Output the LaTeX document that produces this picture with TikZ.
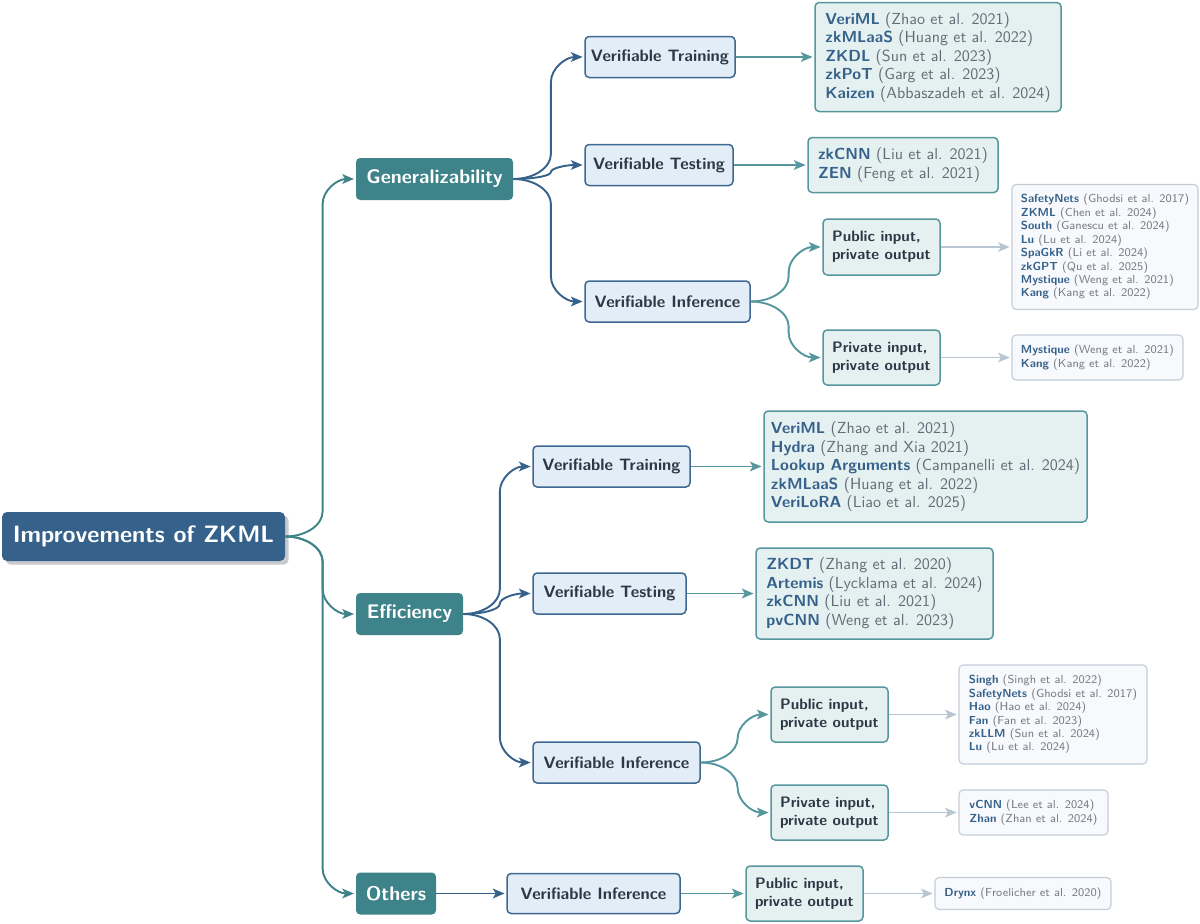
\documentclass[tikz,border=0pt]{standalone}
\usepackage{fontspec}
\usetikzlibrary{arrows.meta,shadows,calc}
\definecolor{rootblue}{RGB}{53,97,138}
\definecolor{tealA}{RGB}{62,131,137}
\definecolor{tealB}{RGB}{86,151,158}
\definecolor{ltwofill}{RGB}{227,237,247}
\definecolor{ltwoborder}{RGB}{62,104,145}
\definecolor{darktext}{RGB}{43,56,69}
\definecolor{listfill}{RGB}{229,241,241}
\definecolor{listborder}{RGB}{86,151,158}
\definecolor{smallfill}{RGB}{248,249,252}
\definecolor{smallborder}{RGB}{196,205,216}
\definecolor{graylink}{RGB}{184,198,212}
\definecolor{citename}{RGB}{53,97,138}
\definecolor{citegray}{RGB}{98,108,118}
\definecolor{citegrayL}{RGB}{118,126,135}
\definecolor{shadowgray}{RGB}{200,202,208}
\newcommand\pxu{0.6pt}
\newcommand\cname[1]{{\bfseries\color{citename}#1}}
\begin{document}
\begin{tikzpicture}[x=0.6pt,y=-0.6pt,
  base/.style={rounded corners=2.5pt, inner sep=1pt, align=center},
  sz/.style 2 args={minimum width=#1*\pxu, minimum height=#2*\pxu},
  rootbox/.style={base, fill=rootblue, text=white, rounded corners=3pt,
    font=\sffamily\bfseries\fontsize{14.2}{17}\selectfont,
    drop shadow={shadow xshift=2.2pt, shadow yshift=-2.2pt, fill=shadowgray, opacity=1}},
  catbox/.style={base, fill=tealA, text=white,
    font=\sffamily\bfseries\fontsize{11.8}{14}\selectfont},
  ltwobox/.style={base, draw=ltwoborder, fill=ltwofill, line width=0.9pt, text=darktext,
    font=\sffamily\bfseries\fontsize{9.9}{11.5}\selectfont},
  ppbox/.style={base, draw=listborder, fill=listfill, line width=0.9pt, text=darktext, align=left,
    font=\sffamily\bfseries\fontsize{9.1}{10.8}\selectfont},
  listbox/.style={base, draw=listborder, fill=listfill, line width=0.9pt, align=left, text=citegray,
    font=\sffamily\fontsize{9.6}{11.1}\selectfont},
  smallbox/.style={base, draw=smallborder, fill=smallfill, line width=0.7pt, align=left, text=citegrayL,
    font=\sffamily\fontsize{7.0}{8.05}\selectfont},
  conn/.style={line width=1.15pt, shorten >=1pt, -{Stealth[length=7pt,width=5.8pt,inset=1.7pt]}},
  cA/.style={conn, draw=tealA},
  cB/.style={conn, draw=rootblue},
  cC/.style={conn, draw=tealB},
  cD/.style={conn, draw=graylink},
  curvy/.style={to path={let \p1=(\tikztostart), \p2=(\tikztotarget) in
      .. controls ({0.71*\x1+0.29*\x2},\y1) and
         ({0.47*\x1+0.53*\x2},{\y1+0.45*min(15,abs(\y2-\y1)/2)*sign(\y2-\y1)}) ..
      ({0.47*\x1+0.53*\x2},{\y1+min(15,abs(\y2-\y1)/2)*sign(\y2-\y1)})
      -- ({0.47*\x1+0.53*\x2},{\y2-min(15,abs(\y2-\y1)/2)*sign(\y2-\y1)})
      .. controls ({0.47*\x1+0.53*\x2},{\y2-0.45*min(15,abs(\y2-\y1)/2)*sign(\y2-\y1)}) and
         ({0.2585*\x1+0.7415*\x2},\y2) .. (\tikztotarget) \tikztonodes}}
]
\useasboundingbox (0,0) rectangle (1200,923);

% root and categories
\node[rootbox, sz={283}{49}] (root) at (143.5,536.5) {Improvements of ZKML};
\node[catbox, sz={157}{42}] (gen) at (434.5,179) {Generalizability};
\node[catbox, sz={107}{42}] (eff) at (409.5,614) {Efficiency};
\node[catbox, sz={80}{42}] (oth) at (396,893.5) {Others};

% generalizability branch
\node[ltwobox, sz={150}{41}] (gvt) at (660,57) {Verifiable Training};
\node[ltwobox, sz={148}{41}] (gvte) at (659,165) {Verifiable Testing};
\node[ltwobox, sz={165}{41}] (gvi) at (667.5,301.5) {Verifiable Inference};
\node[listbox, sz={246}{109}] (gtl) at (938,57) {\cname{VeriML} (Zhao et al. 2021)\\\cname{zkMLaaS} (Huang et al. 2022)\\\cname{ZKDL} (Sun et al. 2023)\\\cname{zkPoT} (Garg et al. 2023)\\\cname{Kaizen} (Abbaszadeh et al. 2024)};
\node[listbox, sz={190}{55}] (gtel) at (903,165) {\cname{zkCNN} (Liu et al. 2021)\\\cname{ZEN} (Feng et al. 2021)};
\node[ppbox, sz={117}{56}] (gpub) at (881.5,247) {Public input,\\private output};
\node[ppbox, sz={117}{55}] (gpriv) at (881.5,357.5) {Private input,\\private output};
\node[smallbox, sz={186}{125}] (gpubl) at (1105,247) {\cname{SafetyNets} (Ghodsi et al. 2017)\\\cname{ZKML} (Chen et al. 2024)\\\cname{South} (Ganescu et al. 2024)\\\cname{Lu} (Lu et al. 2024)\\\cname{SpaGkR} (Li et al. 2024)\\\cname{zkGPT} (Qu et al. 2025)\\\cname{Mystique} (Weng et al. 2021)\\\cname{Kang} (Kang et al. 2022)};
\node[smallbox, sz={171}{45}] (gprivl) at (1097.5,357.5) {\cname{Mystique} (Weng et al. 2021)\\\cname{Kang} (Kang et al. 2022)};

% efficiency branch
\node[ltwobox, sz={157}{41}] (evt) at (611.5,466.5) {Verifiable Training};
\node[ltwobox, sz={153}{41}] (evte) at (609.5,593.5) {Verifiable Testing};
\node[ltwobox, sz={167}{41}] (evi) at (616.5,762.5) {Verifiable Inference};
\node[listbox, sz={323}{111}] (etl) at (925.5,466.5) {\cname{VeriML} (Zhao et al. 2021)\\\cname{Hydra} (Zhang and Xia 2021)\\\cname{Lookup Arguments} (Campanelli et al. 2024)\\\cname{zkMLaaS} (Huang et al. 2022)\\\cname{VeriLoRA} (Liao et al. 2025)};
\node[listbox, sz={237}{91}] (etel) at (874.5,593.5) {\cname{ZKDT} (Zhang et al. 2020)\\\cname{Artemis} (Lycklama et al. 2024)\\\cname{zkCNN} (Liu et al. 2021)\\\cname{pvCNN} (Weng et al. 2023)};
\node[ppbox, sz={117}{55}] (epub) at (829.5,714.5) {Public input,\\private output};
\node[ppbox, sz={117}{55}] (epriv) at (829.5,812.5) {Private input,\\private output};
\node[smallbox, sz={188}{99}] (epubl) at (1053,714.5) {\cname{Singh} (Singh et al. 2022)\\\cname{SafetyNets} (Ghodsi et al. 2017)\\\cname{Hao} (Hao et al. 2024)\\\cname{Fan} (Fan et al. 2023)\\\cname{zkLLM} (Sun et al. 2024)\\\cname{Lu} (Lu et al. 2024)};
\node[smallbox, sz={149}{45}] (eprivl) at (1033.5,812.5) {\cname{vCNN} (Lee et al. 2024)\\\cname{Zhan} (Zhan et al. 2024)};

% others branch
\node[ltwobox, sz={173}{40}] (ovi) at (593.5,893.5) {Verifiable Inference};
\node[ppbox, sz={117}{55}] (opub) at (804.5,893.5) {Public input,\\private output};
\node[smallbox, sz={176}{32}] (ol) at (1023,893.5) {\cname{Drynx} (Froelicher et al. 2020)};

% connectors: root to categories
\draw[cA] (root.east) to[curvy] (gen.west);
\draw[cA] (root.east) to[curvy] (eff.west);
\draw[cA] (root.east) to[curvy] (oth.west);
% categories to level two
\draw[cB] (gen.east) to[curvy] (gvt.west);
\draw[cB] (gen.east) to[curvy] (gvte.west);
\draw[cB] (gen.east) to[curvy] (gvi.west);
\draw[cB] (eff.east) to[curvy] (evt.west);
\draw[cB] (eff.east) to[curvy] (evte.west);
\draw[cB] (eff.east) to[curvy] (evi.west);
\draw[cB] (oth.east) -- (ovi.west);
% level two to lists / settings
\draw[cC] (gvt.east) -- (gtl.west);
\draw[cC] (gvte.east) -- (gtel.west);
\draw[cC] (gvi.east) to[curvy] (gpub.west);
\draw[cC] (gvi.east) to[curvy] (gpriv.west);
\draw[cC] (evt.east) -- (etl.west);
\draw[cC] (evte.east) -- (etel.west);
\draw[cC] (evi.east) to[curvy] (epub.west);
\draw[cC] (evi.east) to[curvy] (epriv.west);
\draw[cC] (ovi.east) -- (opub.west);
% settings to small lists
\draw[cD] (gpub.east) -- (gpubl.west);
\draw[cD] (gpriv.east) -- (gprivl.west);
\draw[cD] (epub.east) -- (epubl.west);
\draw[cD] (epriv.east) -- (eprivl.west);
\draw[cD] (opub.east) -- (ol.west);
\end{tikzpicture}
\end{document}
